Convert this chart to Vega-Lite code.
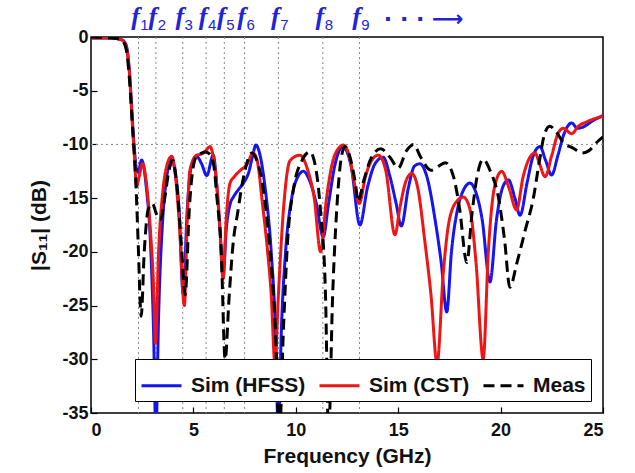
{
  "$schema": "https://vega.github.io/schema/vega-lite/v6.json",
  "autosize": {"type": "none"},
  "padding": {"left": 91, "top": 37, "right": 32, "bottom": 60},
  "width": 512,
  "height": 376,
  "config": {
    "view": {"stroke": "#000", "strokeWidth": 1.5},
    "font": "Liberation Sans",
    "axis": {
      "grid": false,
      "domain": false,
      "tickColor": "#000",
      "tickWidth": 1.2,
      "tickSize": -6,
      "labelFont": "Liberation Sans",
      "labelFontWeight": "bold",
      "labelFontSize": 18,
      "labelColor": "#111",
      "titleFont": "Liberation Sans",
      "titleFontWeight": "bold",
      "titleFontSize": 21,
      "titleColor": "#111"
    },
    "axisX": {"labelPadding": 14, "titlePadding": 6},
    "axisY": {"labelPadding": 9, "titlePadding": 12},
    "legend": {
      "orient": "bottom-right",
      "direction": "horizontal",
      "offset": 12,
      "fillColor": "#fff",
      "strokeColor": "#000",
      "padding": 5,
      "labelFont": "Liberation Sans",
      "labelFontWeight": "bold",
      "labelFontSize": 21,
      "labelColor": "#111",
      "labelOffset": 8,
      "columnPadding": 7,
      "symbolType": "stroke",
      "symbolSize": 1600,
      "symbolStrokeWidth": 3,
      "title": null
    }
  },
  "datasets": {
    "fl": [
      {"f": 2.32, "n": "1"}, {"f": 3.17, "n": "2"}, {"f": 4.48, "n": "3"},
      {"f": 5.62, "n": "4"}, {"f": 6.51, "n": "5"}, {"f": 7.5, "n": "6"},
      {"f": 9.15, "n": "7"}, {"f": 11.32, "n": "8"}, {"f": 13.11, "n": "9"}
    ],
    "s11": [
      {"s":"Sim (HFSS)","f":0,"v":-0.1},{"s":"Sim (HFSS)","f":1,"v":-0.1},{"s":"Sim (HFSS)","f":1.4,"v":-0.2},{"s":"Sim (HFSS)","f":1.6,"v":-0.4},{"s":"Sim (HFSS)","f":1.75,"v":-1.0},{"s":"Sim (HFSS)","f":1.9,"v":-3.8},{"s":"Sim (HFSS)","f":2.0,"v":-7},{"s":"Sim (HFSS)","f":2.1,"v":-10},{"s":"Sim (HFSS)","f":2.2,"v":-12},{"s":"Sim (HFSS)","f":2.3,"v":-12.6},{"s":"Sim (HFSS)","f":2.47,"v":-11.45},{"s":"Sim (HFSS)","f":2.7,"v":-14},{"s":"Sim (HFSS)","f":2.9,"v":-19},{"s":"Sim (HFSS)","f":3.05,"v":-27},{"s":"Sim (HFSS)","f":3.17,"v":-37},{"s":"Sim (HFSS)","f":3.3,"v":-26},{"s":"Sim (HFSS)","f":3.5,"v":-17},{"s":"Sim (HFSS)","f":3.7,"v":-13},{"s":"Sim (HFSS)","f":3.94,"v":-11.3},{"s":"Sim (HFSS)","f":4.1,"v":-12.5},{"s":"Sim (HFSS)","f":4.3,"v":-16},{"s":"Sim (HFSS)","f":4.5,"v":-23.9},{"s":"Sim (HFSS)","f":4.7,"v":-16},{"s":"Sim (HFSS)","f":4.9,"v":-12},{"s":"Sim (HFSS)","f":5.15,"v":-11.1},{"s":"Sim (HFSS)","f":5.4,"v":-11.8},{"s":"Sim (HFSS)","f":5.65,"v":-12.9},{"s":"Sim (HFSS)","f":5.97,"v":-11.0},{"s":"Sim (HFSS)","f":6.15,"v":-14},{"s":"Sim (HFSS)","f":6.3,"v":-18},{"s":"Sim (HFSS)","f":6.45,"v":-22.4},{"s":"Sim (HFSS)","f":6.6,"v":-18},{"s":"Sim (HFSS)","f":6.8,"v":-15.5},{"s":"Sim (HFSS)","f":6.95,"v":-14.9},{"s":"Sim (HFSS)","f":7.2,"v":-14.2},{"s":"Sim (HFSS)","f":7.44,"v":-13.6},{"s":"Sim (HFSS)","f":7.7,"v":-12.6},{"s":"Sim (HFSS)","f":7.9,"v":-11},{"s":"Sim (HFSS)","f":8.05,"v":-10.05},{"s":"Sim (HFSS)","f":8.2,"v":-10.6},{"s":"Sim (HFSS)","f":8.5,"v":-14},{"s":"Sim (HFSS)","f":8.8,"v":-20},{"s":"Sim (HFSS)","f":9.0,"v":-27},{"s":"Sim (HFSS)","f":9.15,"v":-37},{"s":"Sim (HFSS)","f":9.3,"v":-27},{"s":"Sim (HFSS)","f":9.5,"v":-20},{"s":"Sim (HFSS)","f":9.8,"v":-15},{"s":"Sim (HFSS)","f":10.1,"v":-13},{"s":"Sim (HFSS)","f":10.37,"v":-12.5},{"s":"Sim (HFSS)","f":10.7,"v":-13.5},{"s":"Sim (HFSS)","f":11.0,"v":-15.5},{"s":"Sim (HFSS)","f":11.34,"v":-18.6},{"s":"Sim (HFSS)","f":11.6,"v":-15.5},{"s":"Sim (HFSS)","f":11.9,"v":-12},{"s":"Sim (HFSS)","f":12.3,"v":-10.2},{"s":"Sim (HFSS)","f":12.7,"v":-12},{"s":"Sim (HFSS)","f":13.13,"v":-17.5},{"s":"Sim (HFSS)","f":13.5,"v":-14},{"s":"Sim (HFSS)","f":13.9,"v":-11.7},{"s":"Sim (HFSS)","f":14.27,"v":-11.2},{"s":"Sim (HFSS)","f":14.6,"v":-13},{"s":"Sim (HFSS)","f":14.9,"v":-15.5},{"s":"Sim (HFSS)","f":15.15,"v":-17.6},{"s":"Sim (HFSS)","f":15.5,"v":-14},{"s":"Sim (HFSS)","f":15.8,"v":-12},{"s":"Sim (HFSS)","f":16.06,"v":-11.8},{"s":"Sim (HFSS)","f":16.4,"v":-13},{"s":"Sim (HFSS)","f":16.8,"v":-17},{"s":"Sim (HFSS)","f":17.1,"v":-21},{"s":"Sim (HFSS)","f":17.37,"v":-25.6},{"s":"Sim (HFSS)","f":17.6,"v":-20},{"s":"Sim (HFSS)","f":17.9,"v":-16},{"s":"Sim (HFSS)","f":18.2,"v":-14.2},{"s":"Sim (HFSS)","f":18.5,"v":-13.6},{"s":"Sim (HFSS)","f":18.8,"v":-14.5},{"s":"Sim (HFSS)","f":19.1,"v":-17},{"s":"Sim (HFSS)","f":19.48,"v":-22.8},{"s":"Sim (HFSS)","f":19.8,"v":-17},{"s":"Sim (HFSS)","f":20.1,"v":-14},{"s":"Sim (HFSS)","f":20.38,"v":-13.3},{"s":"Sim (HFSS)","f":20.7,"v":-15},{"s":"Sim (HFSS)","f":20.95,"v":-16.6},{"s":"Sim (HFSS)","f":21.3,"v":-13.5},{"s":"Sim (HFSS)","f":21.6,"v":-11},{"s":"Sim (HFSS)","f":21.92,"v":-10.2},{"s":"Sim (HFSS)","f":22.2,"v":-11.5},{"s":"Sim (HFSS)","f":22.49,"v":-12.85},{"s":"Sim (HFSS)","f":22.8,"v":-11},{"s":"Sim (HFSS)","f":23.1,"v":-9},{"s":"Sim (HFSS)","f":23.47,"v":-8.0},{"s":"Sim (HFSS)","f":23.75,"v":-8.5},{"s":"Sim (HFSS)","f":24.0,"v":-8.4},{"s":"Sim (HFSS)","f":24.5,"v":-7.8},{"s":"Sim (HFSS)","f":25,"v":-7.3},
      {"s":"Sim (CST)","f":0,"v":-0.1},{"s":"Sim (CST)","f":1,"v":-0.1},{"s":"Sim (CST)","f":1.4,"v":-0.2},{"s":"Sim (CST)","f":1.6,"v":-0.4},{"s":"Sim (CST)","f":1.75,"v":-1.2},{"s":"Sim (CST)","f":1.9,"v":-4},{"s":"Sim (CST)","f":2.0,"v":-7.5},{"s":"Sim (CST)","f":2.1,"v":-10.5},{"s":"Sim (CST)","f":2.23,"v":-13.9},{"s":"Sim (CST)","f":2.35,"v":-13},{"s":"Sim (CST)","f":2.52,"v":-11.8},{"s":"Sim (CST)","f":2.7,"v":-13.5},{"s":"Sim (CST)","f":2.9,"v":-18},{"s":"Sim (CST)","f":3.05,"v":-23},{"s":"Sim (CST)","f":3.15,"v":-28.5},{"s":"Sim (CST)","f":3.3,"v":-20},{"s":"Sim (CST)","f":3.5,"v":-14.5},{"s":"Sim (CST)","f":3.7,"v":-12},{"s":"Sim (CST)","f":3.94,"v":-11.1},{"s":"Sim (CST)","f":4.1,"v":-12.5},{"s":"Sim (CST)","f":4.3,"v":-17},{"s":"Sim (CST)","f":4.56,"v":-25},{"s":"Sim (CST)","f":4.7,"v":-17},{"s":"Sim (CST)","f":4.83,"v":-12.4},{"s":"Sim (CST)","f":5.16,"v":-11.0},{"s":"Sim (CST)","f":5.4,"v":-10.9},{"s":"Sim (CST)","f":5.6,"v":-10.6},{"s":"Sim (CST)","f":5.81,"v":-10.2},{"s":"Sim (CST)","f":6.0,"v":-11.5},{"s":"Sim (CST)","f":6.15,"v":-14},{"s":"Sim (CST)","f":6.3,"v":-18},{"s":"Sim (CST)","f":6.45,"v":-22.5},{"s":"Sim (CST)","f":6.6,"v":-17},{"s":"Sim (CST)","f":6.79,"v":-13.6},{"s":"Sim (CST)","f":7.0,"v":-13},{"s":"Sim (CST)","f":7.3,"v":-12.4},{"s":"Sim (CST)","f":7.6,"v":-11.9},{"s":"Sim (CST)","f":7.92,"v":-10.8},{"s":"Sim (CST)","f":8.1,"v":-11.4},{"s":"Sim (CST)","f":8.4,"v":-16},{"s":"Sim (CST)","f":8.6,"v":-19.5},{"s":"Sim (CST)","f":8.8,"v":-24},{"s":"Sim (CST)","f":8.98,"v":-30.4},{"s":"Sim (CST)","f":9.15,"v":-24},{"s":"Sim (CST)","f":9.4,"v":-16},{"s":"Sim (CST)","f":9.72,"v":-11.5},{"s":"Sim (CST)","f":10.2,"v":-11.0},{"s":"Sim (CST)","f":10.6,"v":-12.5},{"s":"Sim (CST)","f":10.9,"v":-15},{"s":"Sim (CST)","f":11.21,"v":-20},{"s":"Sim (CST)","f":11.5,"v":-15},{"s":"Sim (CST)","f":11.9,"v":-11},{"s":"Sim (CST)","f":12.32,"v":-10.06},{"s":"Sim (CST)","f":12.6,"v":-11},{"s":"Sim (CST)","f":12.85,"v":-13.5},{"s":"Sim (CST)","f":13.1,"v":-15.5},{"s":"Sim (CST)","f":13.4,"v":-13},{"s":"Sim (CST)","f":13.7,"v":-11.5},{"s":"Sim (CST)","f":14.03,"v":-11.0},{"s":"Sim (CST)","f":14.4,"v":-12.5},{"s":"Sim (CST)","f":14.84,"v":-18.4},{"s":"Sim (CST)","f":15.09,"v":-15.8},{"s":"Sim (CST)","f":15.4,"v":-13.3},{"s":"Sim (CST)","f":15.66,"v":-12.7},{"s":"Sim (CST)","f":15.95,"v":-14},{"s":"Sim (CST)","f":16.3,"v":-19},{"s":"Sim (CST)","f":16.6,"v":-24},{"s":"Sim (CST)","f":16.9,"v":-30.4},{"s":"Sim (CST)","f":17.2,"v":-22},{"s":"Sim (CST)","f":17.5,"v":-17},{"s":"Sim (CST)","f":17.9,"v":-15.2},{"s":"Sim (CST)","f":18.18,"v":-14.9},{"s":"Sim (CST)","f":18.5,"v":-16},{"s":"Sim (CST)","f":18.8,"v":-21},{"s":"Sim (CST)","f":19.15,"v":-30},{"s":"Sim (CST)","f":19.4,"v":-20},{"s":"Sim (CST)","f":19.7,"v":-14},{"s":"Sim (CST)","f":20.05,"v":-12.5},{"s":"Sim (CST)","f":20.4,"v":-14},{"s":"Sim (CST)","f":20.78,"v":-16.1},{"s":"Sim (CST)","f":21.1,"v":-13},{"s":"Sim (CST)","f":21.4,"v":-11.3},{"s":"Sim (CST)","f":21.68,"v":-10.8},{"s":"Sim (CST)","f":21.9,"v":-11.8},{"s":"Sim (CST)","f":22.17,"v":-13.0},{"s":"Sim (CST)","f":22.5,"v":-11},{"s":"Sim (CST)","f":22.8,"v":-9},{"s":"Sim (CST)","f":23.06,"v":-8.5},{"s":"Sim (CST)","f":23.47,"v":-9.0},{"s":"Sim (CST)","f":23.8,"v":-8.3},{"s":"Sim (CST)","f":24.2,"v":-7.9},{"s":"Sim (CST)","f":24.6,"v":-7.6},{"s":"Sim (CST)","f":25,"v":-7.4},
      {"s":"Meas","f":0,"v":0},{"s":"Meas","f":1,"v":-0.1},{"s":"Meas","f":1.4,"v":-0.2},{"s":"Meas","f":1.6,"v":-0.5},{"s":"Meas","f":1.75,"v":-1.5},{"s":"Meas","f":1.9,"v":-4.5},{"s":"Meas","f":2.0,"v":-7.5},{"s":"Meas","f":2.1,"v":-10.5},{"s":"Meas","f":2.2,"v":-14},{"s":"Meas","f":2.3,"v":-19},{"s":"Meas","f":2.45,"v":-26},{"s":"Meas","f":2.6,"v":-20},{"s":"Meas","f":2.8,"v":-16},{"s":"Meas","f":3.0,"v":-15.5},{"s":"Meas","f":3.2,"v":-16.5},{"s":"Meas","f":3.4,"v":-17},{"s":"Meas","f":3.6,"v":-15},{"s":"Meas","f":3.8,"v":-12.5},{"s":"Meas","f":4.0,"v":-11.5},{"s":"Meas","f":4.2,"v":-14},{"s":"Meas","f":4.4,"v":-19},{"s":"Meas","f":4.6,"v":-24},{"s":"Meas","f":4.8,"v":-16},{"s":"Meas","f":5.1,"v":-11.3},{"s":"Meas","f":5.4,"v":-10.8},{"s":"Meas","f":5.6,"v":-10.7},{"s":"Meas","f":5.8,"v":-10.9},{"s":"Meas","f":6.0,"v":-12},{"s":"Meas","f":6.15,"v":-15},{"s":"Meas","f":6.35,"v":-19.5},{"s":"Meas","f":6.55,"v":-30},{"s":"Meas","f":6.75,"v":-24},{"s":"Meas","f":6.95,"v":-19},{"s":"Meas","f":7.15,"v":-16.5},{"s":"Meas","f":7.4,"v":-13.5},{"s":"Meas","f":7.6,"v":-11.8},{"s":"Meas","f":7.85,"v":-10.8},{"s":"Meas","f":8.1,"v":-11.5},{"s":"Meas","f":8.4,"v":-14},{"s":"Meas","f":8.7,"v":-19},{"s":"Meas","f":9.0,"v":-27},{"s":"Meas","f":9.2,"v":-37},{"s":"Meas","f":9.4,"v":-27},{"s":"Meas","f":9.6,"v":-19},{"s":"Meas","f":9.9,"v":-14},{"s":"Meas","f":10.3,"v":-11.5},{"s":"Meas","f":10.69,"v":-10.7},{"s":"Meas","f":11.0,"v":-12.5},{"s":"Meas","f":11.2,"v":-16},{"s":"Meas","f":11.45,"v":-24},{"s":"Meas","f":11.6,"v":-37},{"s":"Meas","f":11.8,"v":-24},{"s":"Meas","f":12.0,"v":-16},{"s":"Meas","f":12.2,"v":-11.5},{"s":"Meas","f":12.4,"v":-10.2},{"s":"Meas","f":12.65,"v":-11.2},{"s":"Meas","f":12.9,"v":-13.5},{"s":"Meas","f":13.05,"v":-15.3},{"s":"Meas","f":13.3,"v":-13.5},{"s":"Meas","f":13.7,"v":-11.2},{"s":"Meas","f":14.15,"v":-10.4},{"s":"Meas","f":14.6,"v":-11.2},{"s":"Meas","f":15.0,"v":-12.2},{"s":"Meas","f":15.4,"v":-10.6},{"s":"Meas","f":15.75,"v":-10.0},{"s":"Meas","f":16.1,"v":-11.2},{"s":"Meas","f":16.6,"v":-12.4},{"s":"Meas","f":17.0,"v":-12},{"s":"Meas","f":17.3,"v":-11.7},{"s":"Meas","f":17.7,"v":-13},{"s":"Meas","f":18.0,"v":-16},{"s":"Meas","f":18.35,"v":-21},{"s":"Meas","f":18.6,"v":-16.5},{"s":"Meas","f":18.85,"v":-13},{"s":"Meas","f":19.15,"v":-11.4},{"s":"Meas","f":19.5,"v":-12.5},{"s":"Meas","f":19.9,"v":-15},{"s":"Meas","f":20.2,"v":-19},{"s":"Meas","f":20.45,"v":-23.3},{"s":"Meas","f":20.8,"v":-21},{"s":"Meas","f":21.2,"v":-18},{"s":"Meas","f":21.6,"v":-15},{"s":"Meas","f":21.9,"v":-11.5},{"s":"Meas","f":22.15,"v":-9},{"s":"Meas","f":22.4,"v":-8.3},{"s":"Meas","f":22.7,"v":-8.8},{"s":"Meas","f":23.1,"v":-9.9},{"s":"Meas","f":23.5,"v":-10.3},{"s":"Meas","f":24.0,"v":-10.8},{"s":"Meas","f":24.3,"v":-10.6},{"s":"Meas","f":24.7,"v":-9.8},{"s":"Meas","f":25,"v":-9.3}
    ]
  },
  "layer": [
    {
      "data": {"name": "fl"},
      "mark": {"type": "rule", "color": "#8a8a8a", "strokeDash": [2, 3], "strokeWidth": 1},
      "encoding": {
        "x": {"field": "f", "type": "quantitative", "title": "Frequency (GHz)",
              "scale": {"domain": [0, 25], "nice": false},
              "axis": {"values": [0, 5, 10, 15, 20, 25], "labelExpr": "'' + datum.value"}}
      }
    },
    {
      "data": {"values": [{"lvl": -10}]},
      "mark": {"type": "rule", "color": "#8a8a8a", "strokeDash": [2, 3], "strokeWidth": 1},
      "encoding": {
        "y": {"field": "lvl", "type": "quantitative", "title": "|S₁₁|  (dB)",
              "scale": {"domain": [-35, 0], "nice": false},
              "axis": {"values": [0, -5, -10, -15, -20, -25, -30, -35], "labelExpr": "'' + datum.value"}}
      }
    },
    {
      "data": {"name": "s11"},
      "mark": {"type": "line", "interpolate": "monotone", "strokeWidth": 3, "clip": true},
      "encoding": {
        "x": {"field": "f", "type": "quantitative", "title": "Frequency (GHz)"},
        "y": {"field": "v", "type": "quantitative", "title": "|S₁₁|  (dB)"},
        "color": {"field": "s", "type": "nominal",
                  "scale": {"domain": ["Sim (HFSS)", "Sim (CST)", "Meas"], "range": ["#1515f0", "#f01515", "#000000"]},
                  "legend": {"title": null}},
        "strokeDash": {"field": "s", "type": "nominal",
                  "scale": {"domain": ["Sim (HFSS)", "Sim (CST)", "Meas"], "range": [[1, 0], [1, 0], [11, 6]]},
                  "legend": {"title": null}}
      }
    },
    {
      "data": {"name": "fl"},
      "mark": {"type": "text", "text": "f", "font": "Liberation Serif", "fontStyle": "italic", "fontWeight": "bold",
               "fontSize": 26, "color": "#2323d6", "align": "center", "baseline": "alphabetic", "dx": -3},
      "encoding": {
        "x": {"field": "f", "type": "quantitative", "title": "Frequency (GHz)"},
        "y": {"datum": 1.15, "type": "quantitative", "title": "|S₁₁|  (dB)"}
      }
    },
    {
      "data": {"name": "fl"},
      "mark": {"type": "text", "font": "Liberation Sans", "fontSize": 15,
               "color": "#2323d6", "align": "center", "baseline": "alphabetic", "dx": 6},
      "encoding": {
        "x": {"field": "f", "type": "quantitative", "title": "Frequency (GHz)"},
        "y": {"datum": 0.65, "type": "quantitative", "title": "|S₁₁|  (dB)"},
        "text": {"field": "n"}
      }
    },
    {
      "data": {"values": [{"t": "·  ·  ·  ⟶"}]},
      "mark": {"type": "text", "font": "DejaVu Sans", "fontSize": 22, "fontWeight": "bold",
               "color": "#2323d6", "align": "left", "baseline": "alphabetic"},
      "encoding": {
        "x": {"datum": 14.3, "type": "quantitative", "title": "Frequency (GHz)"},
        "y": {"datum": 1.0, "type": "quantitative", "title": "|S₁₁|  (dB)"},
        "text": {"field": "t"}
      }
    }
  ]
}
